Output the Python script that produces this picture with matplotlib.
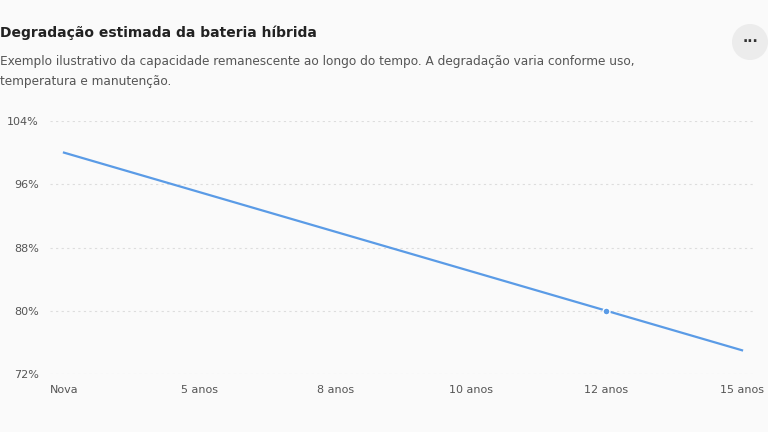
import matplotlib
matplotlib.use("Agg")
import matplotlib.pyplot as plt
from matplotlib.patches import Circle

categories = ["Nova", "5 anos", "8 anos", "10 anos", "12 anos", "15 anos"]
capacity = [100, 95, 90, 85, 80, 75]
yticks = [72, 80, 88, 96, 104]
highlight = 4

bg = "#fafafa"
fig = plt.figure(figsize=(7.68, 4.32), dpi=100, facecolor=bg)
ax = fig.add_axes([50/768, 58/432, 706/768, 253/432], facecolor=bg)
x = list(range(len(categories)))
ax.plot(x, capacity, color="#5a9be6", lw=1.6)
ax.plot([x[highlight]], [capacity[highlight]], "o", color="#5a9be6", ms=5, mec="white", mew=1)
ax.set_xlim(-0.103, 5.103)
ax.set_ylim(72, 104)
ax.set_yticks(yticks)
ax.set_yticklabels([f"{v}%" for v in yticks])
ax.set_xticks(x)
ax.set_xticklabels(categories)
for s in ax.spines.values():
    s.set_visible(False)
ax.grid(axis="y", color="#dddddd", ls=(0, (2, 3)), lw=0.8)
ax.tick_params(length=0, labelsize=8, colors="#555555", pad=8)
ax.set_axisbelow(True)

fig.text(0.0, 1-33/432, "Degradação estimada da bateria híbrida", fontsize=10, fontweight="bold", color="#222222", va="center")
fig.text(0.0, 1-62/432, "Exemplo ilustrativo da capacidade remanescente ao longo do tempo. A degradação varia conforme uso,", fontsize=8.7, color="#555555", va="center")
fig.text(0.0, 1-82/432, "temperatura e manutenção.", fontsize=8.7, color="#555555", va="center")
c = Circle((750/768, 1-42/432), 0.0235, transform=fig.transFigure, facecolor="#ececec", edgecolor="none")
c.set_transform(fig.dpi_scale_trans)
c.center = (7.50, 4.32-0.42); c.radius = 0.18
fig.patches.append(c)
fig.text(750/768, 1-42/432, "···", fontsize=10, ha="center", va="center", color="#333333", fontweight="bold")
fig.savefig("out.png", facecolor=bg)
